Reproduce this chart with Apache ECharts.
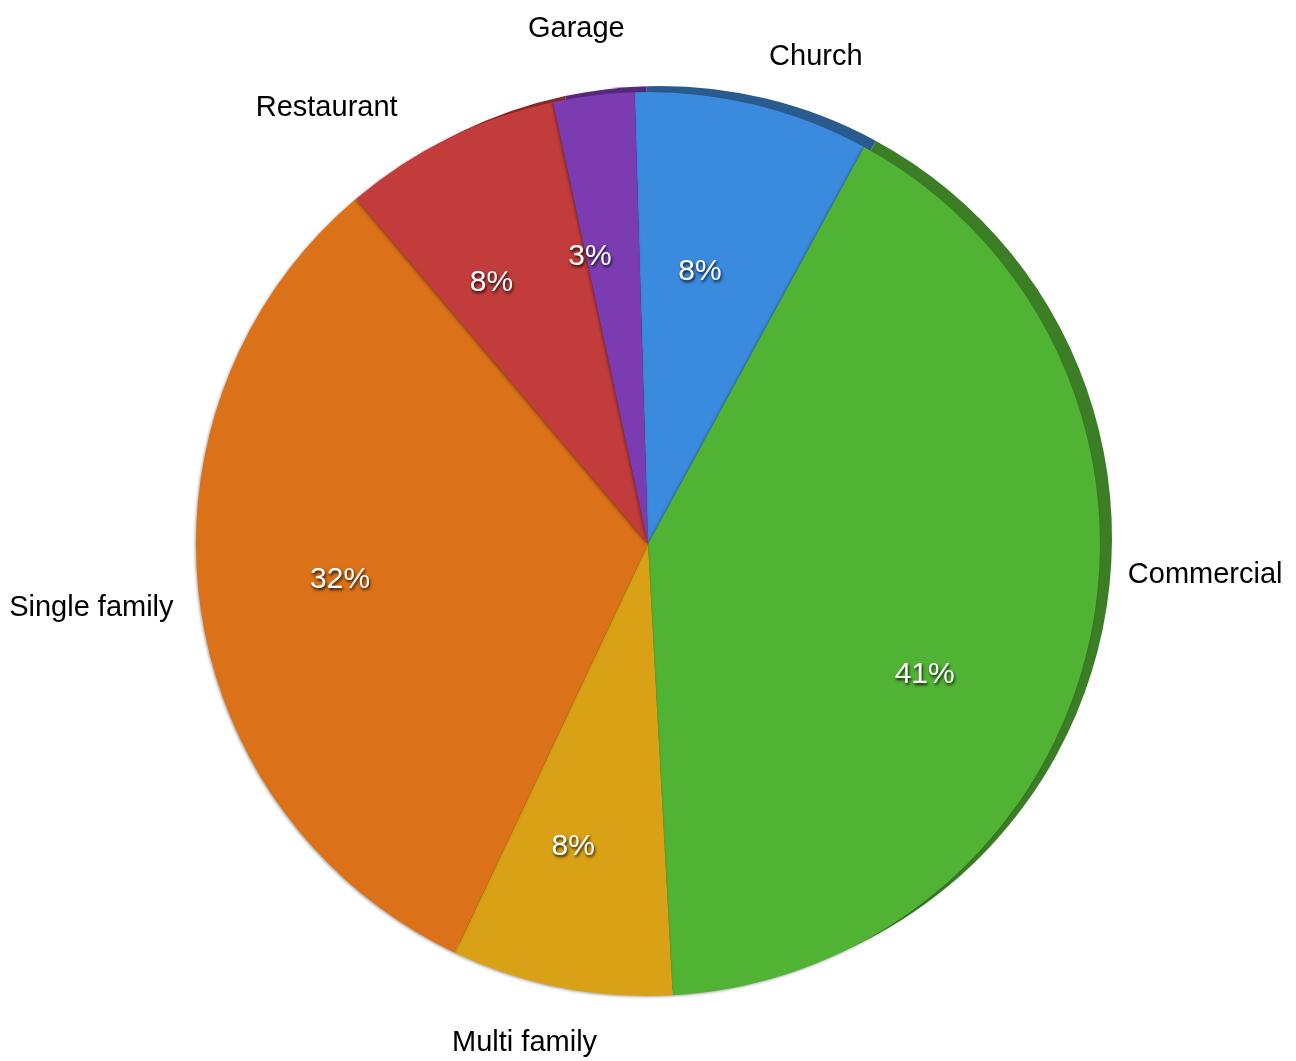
<!DOCTYPE html>
<html>
<head>
<meta charset="utf-8">
<script src="https://cdn.jsdelivr.net/npm/echarts@6/dist/echarts.min.js"></script>
<style>
html,body{margin:0;padding:0;background:#fff;}
#chart{width:1296px;height:1061px;}
</style>
</head>
<body>
<div id="chart"></div>
<script>
// Data (clockwise from top)
const categories = ['Church', 'Commercial', 'Multi family', 'Single family', 'Restaurant', 'Garage'];
const shares = [8.4, 41.2, 7.9, 31.8, 7.8, 2.9];

// Styling
const faceColors = ['#3a8ade', '#50b334', '#d9a116', '#db7118', '#c13c3a', '#7a3cb0'];
const sideColors = ['#2a5b8f', '#3c7e26', '#9c7410', '#9c5010', '#8a2a28', '#55297c'];

// label placement tweaks (degrees of turn from the slice mid-angle, gap from rim / radius)
const nameTurn = [5.6, -9.5, 2.8, 0.9, -10.2, -1.0];
const nameGap = [34, 28, 31, 25, 36, 47];
const pctTurn = [-2.6, 12.6, 2.8, 0.8, -4.7, -4.5];
const pctRadius = [277, 306, 312, 310, 305, 293];

const CX = 648, CY = 544, R = 452;
const START = 91.7;
const FONT = '"Liberation Sans", Arial, Helvetica, sans-serif';

const faceData = categories.map((c, i) => ({ name: c, value: shares[i], itemStyle: { color: faceColors[i] } }));
const sideData = categories.map((c, i) => ({ name: c, value: shares[i], itemStyle: { color: sideColors[i] } }));
const labelData = categories.map((c, i) => ({ name: c, value: shares[i] }));

function turnedDir(px, py, turnDeg) {
  const th = Math.atan2(px - CX, -(py - CY)) + turnDeg * Math.PI / 180;
  return [Math.sin(th), -Math.cos(th)];
}

const chart = echarts.init(document.getElementById('chart'), null, { renderer: 'canvas' });

chart.setOption({
  animation: false,
  backgroundColor: '#ffffff',
  series: [
    {
      // disc thickness (visible on upper right)
      type: 'pie',
      center: [CX + 12, CY - 6],
      radius: [0, R],
      startAngle: START,
      clockwise: true,
      silent: true,
      z: 1,
      label: { show: false },
      labelLine: { show: false },
      data: sideData
    },
    {
      type: 'pie',
      center: [CX, CY],
      radius: [0, R],
      startAngle: START,
      clockwise: true,
      silent: true,
      z: 2,
      avoidLabelOverlap: false,
      itemStyle: {
        borderWidth: 0,
        shadowBlur: 3,
        shadowColor: 'rgba(0,0,0,0.35)',
        shadowOffsetX: -1,
        shadowOffsetY: 1
      },
      label: {
        show: true,
        position: 'outside',
        formatter: '{b}',
        fontFamily: FONT,
        fontSize: 29,
        color: '#000'
      },
      labelLine: { show: true, length: 0, length2: 0, lineStyle: { opacity: 0, width: 0 } },
      labelLayout: function (p) {
        const pts = p.labelLinePoints;
        if (!pts) return {};
        const i = p.dataIndex;
        const u = turnedDir(pts[0][0], pts[0][1], nameTurn[i]);
        const w = p.labelRect.width, h = p.labelRect.height;
        const ext = Math.abs(u[0]) * w / 2 + Math.abs(u[1]) * h / 2;
        const dist = R + nameGap[i] + ext;
        return {
          x: CX + u[0] * dist,
          y: CY + u[1] * dist,
          align: 'center',
          verticalAlign: 'middle'
        };
      },
      data: faceData
    },
    {
      // percentage labels
      type: 'pie',
      center: [CX, CY],
      radius: [166, 434],
      startAngle: START,
      clockwise: true,
      silent: true,
      z: 3,
      itemStyle: { color: 'rgba(0,0,0,0)' },
      label: {
        show: true,
        position: 'inside',
        formatter: function (p) { return Math.round(p.percent) + '%'; },
        fontFamily: FONT,
        fontSize: 30,
        color: '#ffffff',
        textShadowColor: 'rgba(0,0,0,0.85)',
        textShadowBlur: 3,
        textShadowOffsetX: 1,
        textShadowOffsetY: 2
      },
      labelLine: { show: false },
      labelLayout: function (p) {
        const i = p.dataIndex;
        const r = p.labelRect;
        const u = turnedDir(r.x + r.width / 2, r.y + r.height / 2, pctTurn[i]);
        return {
          x: CX + u[0] * pctRadius[i],
          y: CY + u[1] * pctRadius[i],
          align: 'center',
          verticalAlign: 'middle'
        };
      },
      data: labelData
    }
  ]
});
</script>
</body>
</html>
